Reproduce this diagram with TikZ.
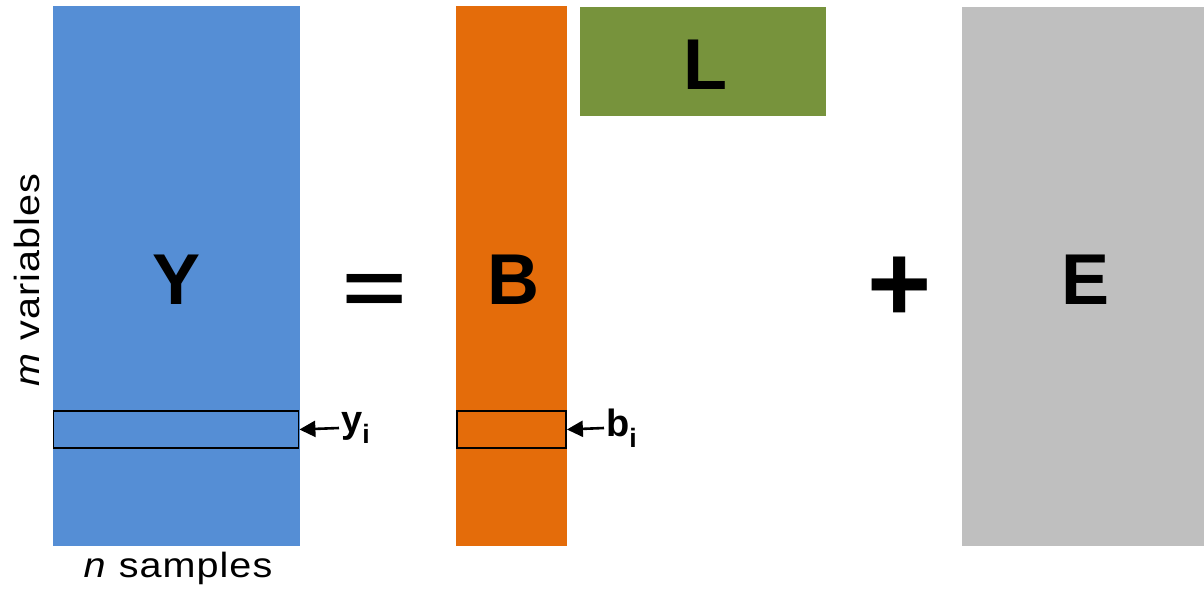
\documentclass[tikz,border=0pt]{standalone}
\usepackage{fontspec}
\setmainfont{Liberation Sans}
\newfontfamily\axisfont[FakeStretch=1.13,LetterSpace=3]{Liberation Sans}
\usetikzlibrary{arrows.meta}
\definecolor{cblue}{HTML}{558ED5}
\definecolor{corange}{HTML}{E46C0A}
\definecolor{cgreen}{HTML}{77933C}
\definecolor{cgray}{HTML}{BFBFBF}
\tikzset{
  big/.style={font=\fontsize{72}{72}\selectfont\bfseries},
  rowbox/.style={draw=black,line width=1.8pt,fill=none},
  ptr/.style={-{Triangle[length=16pt,width=16pt]},line width=2.6pt},
  lab/.style={font=\fontsize{38}{38}\selectfont\bfseries,anchor=west,inner sep=2pt},
  axis/.style={font=\axisfont\fontsize{35}{35}\selectfont},
  op/.style={font=\fontsize{110}{110}\selectfont\bfseries}
}
\begin{document}
\begin{tikzpicture}[x=1pt,y=-1pt]
\useasboundingbox (0,0) rectangle (1204,591);
\fill[cblue] (53,6) rectangle (300,546);
\fill[corange] (456,6) rectangle (567,546);
\fill[cgreen] (580,7) rectangle (826,116);
\fill[cgray] (962,7) rectangle (1204,546);
\node[big] (Y) at (177,280) {Y};
\node[big] (B) at (513,280) {B};
\node[big] (L) at (705,65) {L};
\node[big] (E) at (1085,280) {E};
\node[op] (eq) at (375,294) {\scalebox{1}[0.7]{=}};
\node[op] (pl) at (900,289) {+};
\node[rowbox,minimum width=245pt,minimum height=37pt] (yi) at (176,429.5) {};
\node[rowbox,minimum width=109pt,minimum height=37pt] (bi) at (511.5,429.5) {};
\node[lab] (yil) at (339,428) {y\textsubscript{i}};
\node[lab] (bil) at (604,428) {b\textsubscript{i}};
\draw[ptr] (yil.west) -- (yi.east);
\draw[ptr] (bil.west) -- (bi.east);
\node[axis,rotate=90] (mv) at (27,280) {\textit{m} variables};
\node[axis] (ns) at (178,568) {\textit{n} samples};
\end{tikzpicture}
\end{document}
